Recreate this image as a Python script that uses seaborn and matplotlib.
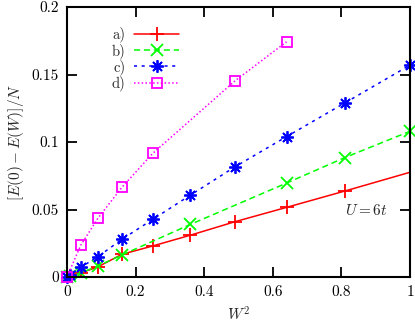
import numpy as np
import pandas as pd
import matplotlib
matplotlib.use("Agg")
import matplotlib.pyplot as plt
import seaborn as sns

# Data (x = W^2)
x_a = [0.0, 0.01, 0.04, 0.09, 0.16, 0.25, 0.36, 0.49, 0.64, 0.81, 1.21]
y_a = [0.0, 0.0008, 0.003, 0.0075, 0.0168, 0.023, 0.031, 0.041, 0.0516, 0.0637, 0.093]

x_b = [0.0, 0.01, 0.04, 0.09, 0.16, 0.36, 0.64, 0.81, 1.0]
y_b = [0.0, 0.0008, 0.003, 0.0081, 0.0163, 0.039, 0.0696, 0.0885, 0.108]

x_c = [0.0, 0.01, 0.04, 0.09, 0.16, 0.25, 0.36, 0.49, 0.64, 0.81, 1.0]
y_c = [0.0, 0.0015, 0.0072, 0.015, 0.0279, 0.0427, 0.0607, 0.0817, 0.104, 0.129, 0.157]

x_d = [0.0, 0.04, 0.09, 0.16, 0.25, 0.49, 0.64]
y_d = [0.0, 0.0235, 0.0435, 0.0664, 0.0916, 0.1454, 0.1743]

labels = ["a)", "b)", "c)", "d)"]
x_ticks = [0, 0.2, 0.4, 0.6, 0.8, 1]
x_ticklabels = ["0", "0.2", "0.4", "0.6", "0.8", "1"]
y_ticks = [0, 0.05, 0.1, 0.15, 0.2]
y_ticklabels = ["0", "0.05", "0.1", "0.15", "0.2"]

sns.set_style("ticks")
plt.rcParams["font.family"] = ["cmr10", "DejaVu Serif"]
plt.rcParams["mathtext.fontset"] = "cm"
plt.rcParams["axes.formatter.use_mathtext"] = True

fig = plt.figure(figsize=(4.15, 3.23), dpi=100)
ax = fig.add_axes([0.1614, 0.1424, 0.988 - 0.1614, 0.978 - 0.1424])

# red runs past the right border, so it is clipped; the rest are not
series = [
    (x_a, y_a, "#ff0000", "-", "+", 10, True),
    (x_b, y_b, "#00ff00", (0, (4, 2.5)), "x", 8, False),
    (x_c, y_c, "#0000ff", (0, (2, 3)), (8, 2, 0), 9, False),
    (x_d, y_d, "#ff00ff", (0, (1, 1.5)), "s", 7, False),
]
for (xs, ys, col, ls, mk, ms, clip), lab in zip(series, labels):
    df = pd.DataFrame({"x": xs, "y": ys})
    sns.lineplot(data=df, x="x", y="y", ax=ax, color=col, linestyle=ls,
                 marker=mk, markersize=ms, markeredgewidth=1.3,
                 markerfacecolor="none", markeredgecolor=col,
                 linewidth=1.1, sort=False, estimator=None, label=lab,
                 clip_on=clip)

ax.set_xlim(0, 1)
ax.set_ylim(0, 0.2)
ax.set_xticks(x_ticks)
ax.set_xticklabels(x_ticklabels)
ax.set_yticks(y_ticks)
ax.set_yticklabels(y_ticklabels)
ax.tick_params(direction="in", length=7, width=1.3, top=True, right=True,
               labelsize=11, pad=6, colors="black")
for sp in ax.spines.values():
    sp.set_linewidth(1.5)
    sp.set_color("black")

ax.set_xlabel(r"$W^2$", fontsize=11, labelpad=5)
ax.set_ylabel(r"$[E(0)-E(W)]/N$", fontsize=11, labelpad=4)
ax.text(0.935, 0.049, r"$U=6t$", fontsize=11, ha="right", va="center")

leg = ax.legend(loc="upper left", bbox_to_anchor=(0.1, 0.965), frameon=False,
                markerfirst=False, handlelength=3.1, handletextpad=0.6,
                labelspacing=0.05, fontsize=10.5, borderaxespad=0.3)

fig.savefig("out.png", dpi=100)
